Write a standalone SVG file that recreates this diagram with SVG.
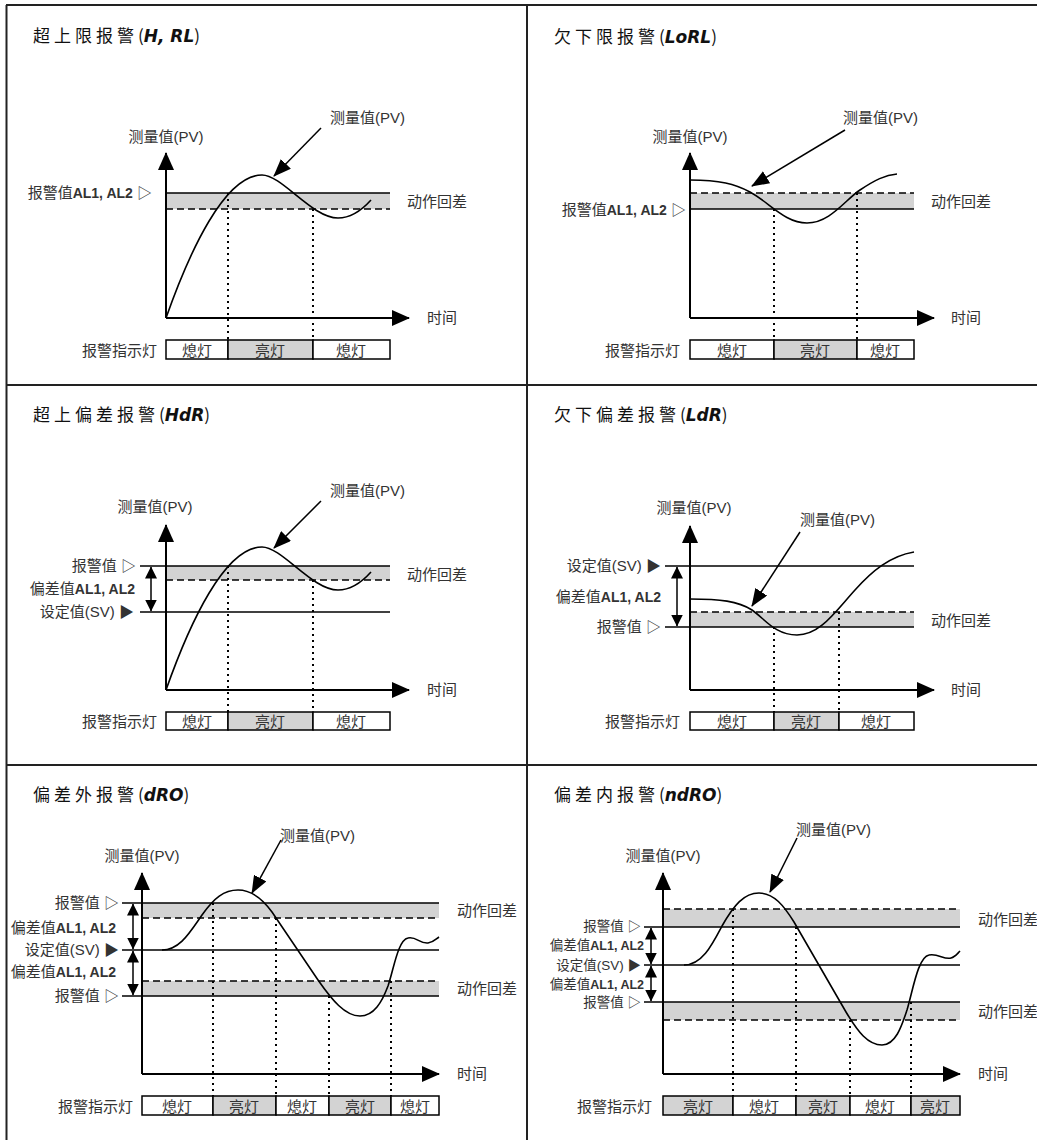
<svg xmlns="http://www.w3.org/2000/svg" width="1037" height="1140" viewBox="0 0 1037 1140">
<defs>
<style>
.grid{stroke:#222;stroke-width:2;fill:none}
.axis{stroke:#000;stroke-width:2;fill:none;marker-end:url(#ah)}
.band{fill:#d3d3d3;stroke:none}
.solid{stroke:#000;stroke-width:1.6}
.dash{stroke:#000;stroke-width:1.6;stroke-dasharray:7 4}
.dot{stroke:#000;stroke-width:2;stroke-dasharray:2 4}
.curve{fill:none;stroke:#000;stroke-width:1.6}
.ptr{stroke:#000;stroke-width:1.5;marker-end:url(#ph)}
.dbl{stroke:#000;stroke-width:1.5;marker-start:url(#dh);marker-end:url(#dh)}
.cell{stroke:#000;stroke-width:1.5}
.on{fill:#d3d3d3}
.off{fill:#fff}
text{font-family:"Liberation Sans","Noto Sans CJK SC",sans-serif;font-size:15px;fill:#333}
.t{font-family:"Noto Sans CJK SC",sans-serif;font-size:17px;fill:#111;letter-spacing:4px}
.code{font-family:"DejaVu Sans",sans-serif;font-style:italic;font-weight:bold;letter-spacing:0}
.p{letter-spacing:0}
.e{text-anchor:end}
.m{text-anchor:middle}
.b{font-weight:bold;font-size:14px}
.s{font-size:13.5px}
.s .b{font-size:12.5px}
</style>
<marker id="ah" viewBox="0 0 18 16" refX="17" refY="8" markerWidth="18" markerHeight="16" markerUnits="userSpaceOnUse" orient="auto"><path d="M0,0 L18,8 L0,16 z" fill="#000"/></marker>
<marker id="ph" viewBox="0 0 18 14" refX="17" refY="7" markerWidth="18" markerHeight="14" markerUnits="userSpaceOnUse" orient="auto"><path d="M0,0 L18,7 L0,14 z" fill="#000"/></marker>
<marker id="dh" viewBox="0 0 12 12" refX="11.5" refY="6" markerWidth="12" markerHeight="12" markerUnits="userSpaceOnUse" orient="auto-start-reverse"><path d="M0,0 L12,6 L0,12 z" fill="#000"/></marker>
</defs>
<rect width="1037" height="1140" fill="#fff"/>

<g id="grid">
<line class="grid" x1="6.5" y1="5" x2="6.5" y2="1140"/>
<line class="grid" x1="6" y1="5" x2="1037" y2="5"/>
<line class="grid" x1="527" y1="5" x2="527" y2="1140"/>
<line class="grid" x1="6" y1="385" x2="1037" y2="385"/>
<line class="grid" x1="6" y1="765" x2="1037" y2="765"/>
</g>

<!-- Panel 1 -->
<g id="panel-hial">
<text class="t" x="33" y="42">超上限报警<tspan class="p">(</tspan><tspan class="code">H, RL</tspan><tspan class="p">)</tspan></text>
<rect class="band" x="166" y="193" width="224" height="16"/>
<line class="solid" x1="166" y1="193" x2="390" y2="193"/>
<line class="dash" x1="166" y1="209" x2="390" y2="209"/>
<text class="e" x="152" y="198">报警值<tspan class="b">AL1, AL2</tspan> ▷</text>
<text x="407" y="207">动作回差</text>
<text x="427" y="323">时间</text>
<text class="m" x="166" y="142">测量值(PV)</text>
<text x="330" y="123">测量值(PV)</text>
<g id="bar-hial">
<rect class="cell off" x="166" y="340" width="62" height="19"/>
<rect class="cell on" x="228" y="340" width="85" height="19"/>
<rect class="cell off" x="313" y="340" width="77" height="19"/>
<text class="m" x="197" y="356">熄灯</text>
<text class="m" x="270" y="356">亮灯</text>
<text class="m" x="351" y="356">熄灯</text>
</g>
<text class="e" x="157" y="356">报警指示灯</text>
</g>

<!-- Panel 2 -->
<g id="panel-loal">
<text class="t" x="554" y="43">欠下限报警<tspan class="p">(</tspan><tspan class="code">LoRL</tspan><tspan class="p">)</tspan></text>
<rect class="band" x="690" y="193" width="224" height="16"/>
<line class="dash" x1="690" y1="193" x2="914" y2="193"/>
<line class="solid" x1="690" y1="209" x2="914" y2="209"/>
<text class="e" x="686" y="215">报警值<tspan class="b">AL1, AL2</tspan> ▷</text>
<text x="931" y="207">动作回差</text>
<text x="951" y="323">时间</text>
<text class="m" x="690" y="142">测量值(PV)</text>
<text x="843" y="123">测量值(PV)</text>
<g id="bar-loal">
<rect class="cell off" x="690" y="340" width="84" height="19"/>
<rect class="cell on" x="774" y="340" width="83" height="19"/>
<rect class="cell off" x="857" y="340" width="57" height="19"/>
<text class="m" x="732" y="356">熄灯</text>
<text class="m" x="815" y="356">亮灯</text>
<text class="m" x="885" y="356">熄灯</text>
</g>
<text class="e" x="680" y="356">报警指示灯</text>
</g>

<!-- Panel 3 -->
<g id="panel-hda">
<text class="t" x="33" y="421">超上偏差报警<tspan class="p">(</tspan><tspan class="code">HdR</tspan><tspan class="p">)</tspan></text>
<rect class="band" x="166" y="566" width="224" height="14"/>
<line class="solid" x1="140" y1="566" x2="390" y2="566"/>
<line class="dash" x1="166" y1="580" x2="390" y2="580"/>
<line class="solid" x1="140" y1="612" x2="390" y2="612"/>
<text class="e" x="136" y="571">报警值 ▷</text>
<text class="e" x="135" y="594">偏差值<tspan class="b">AL1, AL2</tspan></text>
<text class="e" x="134" y="617">设定值(SV) ▶</text>
<text x="407" y="580">动作回差</text>
<text x="427" y="695">时间</text>
<text class="m" x="155" y="512">测量值(PV)</text>
<text x="330" y="496">测量值(PV)</text>
<g id="bar-hda">
<rect class="cell off" x="166" y="712" width="62" height="18"/>
<rect class="cell on" x="228" y="712" width="85" height="18"/>
<rect class="cell off" x="313" y="712" width="77" height="18"/>
<text class="m" x="197" y="727">熄灯</text>
<text class="m" x="270" y="727">亮灯</text>
<text class="m" x="351" y="727">熄灯</text>
</g>
<text class="e" x="157" y="727">报警指示灯</text>
</g>

<!-- Panel 4 -->
<g id="panel-lda">
<text class="t" x="554" y="421">欠下偏差报警<tspan class="p">(</tspan><tspan class="code">LdR</tspan><tspan class="p">)</tspan></text>
<rect class="band" x="690" y="612" width="224" height="15"/>
<line class="solid" x1="665" y1="566" x2="914" y2="566"/>
<line class="dash" x1="690" y1="612" x2="914" y2="612"/>
<line class="solid" x1="665" y1="627" x2="914" y2="627"/>
<text class="e" x="661" y="571">设定值(SV) ▶</text>
<text class="e" x="661" y="602">偏差值<tspan class="b">AL1, AL2</tspan></text>
<text class="e" x="661" y="632">报警值 ▷</text>
<text x="931" y="626">动作回差</text>
<text x="951" y="695">时间</text>
<text class="m" x="694" y="513">测量值(PV)</text>
<text x="800" y="525">测量值(PV)</text>
<g id="bar-lda">
<rect class="cell off" x="690" y="712" width="84" height="18"/>
<rect class="cell on" x="774" y="712" width="65" height="18"/>
<rect class="cell off" x="839" y="712" width="75" height="18"/>
<text class="m" x="732" y="727">熄灯</text>
<text class="m" x="806" y="727">亮灯</text>
<text class="m" x="876" y="727">熄灯</text>
</g>
<text class="e" x="680" y="727">报警指示灯</text>
</g>

<!-- Panel 5 -->
<g id="panel-dao">
<text class="t" x="33" y="801">偏差外报警<tspan class="p">(</tspan><tspan class="code">dRO</tspan><tspan class="p">)</tspan></text>
<rect class="band" x="142" y="903" width="297" height="15"/>
<rect class="band" x="142" y="981" width="297" height="15"/>
<line class="solid" x1="122" y1="903" x2="439" y2="903"/>
<line class="dash" x1="142" y1="918" x2="439" y2="918"/>
<line class="solid" x1="122" y1="950" x2="439" y2="950"/>
<line class="dash" x1="142" y1="981" x2="439" y2="981"/>
<line class="solid" x1="122" y1="996" x2="439" y2="996"/>
<text class="e" x="119" y="908">报警值 ▷</text>
<text class="e" x="116" y="933">偏差值<tspan class="b">AL1, AL2</tspan></text>
<text class="e" x="119" y="955">设定值(SV) ▶</text>
<text class="e" x="116" y="977">偏差值<tspan class="b">AL1, AL2</tspan></text>
<text class="e" x="119" y="1001">报警值 ▷</text>
<text x="457" y="916">动作回差</text>
<text x="457" y="994">动作回差</text>
<text x="457" y="1079">时间</text>
<text class="m" x="142" y="861">测量值(PV)</text>
<text x="280" y="841">测量值(PV)</text>
<g id="bar-dao">
<rect class="cell off" x="142" y="1096" width="71" height="19"/>
<rect class="cell on" x="213" y="1096" width="63" height="19"/>
<rect class="cell off" x="276" y="1096" width="53" height="19"/>
<rect class="cell on" x="329" y="1096" width="62" height="19"/>
<rect class="cell off" x="391" y="1096" width="48" height="19"/>
<text class="m" x="177" y="1112">熄灯</text>
<text class="m" x="244" y="1112">亮灯</text>
<text class="m" x="302" y="1112">熄灯</text>
<text class="m" x="360" y="1112">亮灯</text>
<text class="m" x="415" y="1112">熄灯</text>
</g>
<text class="e" x="133" y="1112">报警指示灯</text>
</g>

<!-- Panel 6 -->
<g id="panel-ndao">
<text class="t" x="554" y="801">偏差内报警<tspan class="p">(</tspan><tspan class="code">ndRO</tspan><tspan class="p">)</tspan></text>
<rect class="band" x="663" y="909" width="297" height="18"/>
<rect class="band" x="663" y="1002" width="297" height="18"/>
<line class="dash" x1="663" y1="909" x2="960" y2="909"/>
<line class="solid" x1="644" y1="927" x2="960" y2="927"/>
<line class="solid" x1="644" y1="965" x2="960" y2="965"/>
<line class="solid" x1="644" y1="1002" x2="960" y2="1002"/>
<line class="dash" x1="663" y1="1020" x2="960" y2="1020"/>
<text class="e s" x="641" y="931">报警值 ▷</text>
<text class="e s" x="644" y="950">偏差值<tspan class="b">AL1, AL2</tspan></text>
<text class="e s" x="641" y="970">设定值(SV) ▶</text>
<text class="e s" x="644" y="989">偏差值<tspan class="b">AL1, AL2</tspan></text>
<text class="e s" x="641" y="1007">报警值 ▷</text>
<text x="978" y="925">动作回差</text>
<text x="978" y="1017">动作回差</text>
<text x="978" y="1079">时间</text>
<text class="m" x="663" y="861">测量值(PV)</text>
<text x="796" y="835">测量值(PV)</text>
<g id="bar-ndao">
<rect class="cell on" x="663" y="1096" width="70" height="19"/>
<rect class="cell off" x="733" y="1096" width="63" height="19"/>
<rect class="cell on" x="796" y="1096" width="54" height="19"/>
<rect class="cell off" x="850" y="1096" width="61" height="19"/>
<rect class="cell on" x="911" y="1096" width="49" height="19"/>
<text class="m" x="698" y="1112">亮灯</text>
<text class="m" x="764" y="1112">熄灯</text>
<text class="m" x="823" y="1112">亮灯</text>
<text class="m" x="880" y="1112">熄灯</text>
<text class="m" x="935" y="1112">亮灯</text>
</g>
<text class="e" x="652" y="1112">报警指示灯</text>
</g>

<g id="connectors">
<line class="axis" x1="166" y1="318" x2="166" y2="153"/>
<line class="axis" x1="166" y1="318" x2="409" y2="318"/>
<line class="axis" x1="690" y1="318" x2="690" y2="153"/>
<line class="axis" x1="690" y1="318" x2="934" y2="318"/>
<line class="axis" x1="166" y1="690" x2="166" y2="525"/>
<line class="axis" x1="166" y1="690" x2="409" y2="690"/>
<line class="axis" x1="690" y1="690" x2="690" y2="526"/>
<line class="axis" x1="690" y1="690" x2="934" y2="690"/>
<line class="axis" x1="142" y1="1074" x2="142" y2="873"/>
<line class="axis" x1="142" y1="1074" x2="439" y2="1074"/>
<line class="axis" x1="663" y1="1074" x2="663" y2="873"/>
<line class="axis" x1="663" y1="1074" x2="960" y2="1074"/>
<path class="curve" d="M166,318 C190,250 225,175 262,175 C282,175 312,218 338,218 C352,218 362,210 371,200"/>
<path class="curve" d="M690,180 C720,180 735,184 750,192 C770,203 785,223 807,223 C830,223 845,200 860,190 C875,180 885,175 897,174"/>
<path class="curve" d="M166,690 C190,622 225,547 262,547 C282,547 312,590 338,590 C352,590 362,582 371,572"/>
<path class="curve" d="M690,599 C720,599 738,601 752,610 C765,619 775,635 797,635 C820,635 835,612 855,590 C872,571 890,556 914,552"/>
<path class="curve" d="M162,950 C180,950 190,932 202,915 C214,898 224,890 238,890 C252,890 264,901 272,912 L318,980 C332,1000 345,1016 360,1016 C374,1016 382,1002 388,986 C394,968 398,940 408,938 C416,936 420,944 428,943 C434,942 436,939 439,937"/>
<path class="curve" d="M684,965 C702,965 712,945 722,926 C734,905 744,893 759,893 C774,893 784,906 794,922 L846,1012 C858,1032 868,1045 882,1045 C896,1045 902,1025 907,1010 C913,990 918,957 929,955 C938,953 944,960 951,958 C955,957 957,954 960,951"/>
<line class="dot" x1="228" y1="193" x2="228" y2="340"/>
<line class="dot" x1="313" y1="209" x2="313" y2="340"/>
<line class="dot" x1="774" y1="209" x2="774" y2="340"/>
<line class="dot" x1="857" y1="193" x2="857" y2="340"/>
<line class="dot" x1="228" y1="566" x2="228" y2="712"/>
<line class="dot" x1="313" y1="580" x2="313" y2="712"/>
<line class="dot" x1="774" y1="627" x2="774" y2="712"/>
<line class="dot" x1="839" y1="612" x2="839" y2="712"/>
<line class="dot" x1="213" y1="903" x2="213" y2="1096"/>
<line class="dot" x1="276" y1="918" x2="276" y2="1096"/>
<line class="dot" x1="329" y1="996" x2="329" y2="1096"/>
<line class="dot" x1="391" y1="981" x2="391" y2="1096"/>
<line class="dot" x1="733" y1="909" x2="733" y2="1096"/>
<line class="dot" x1="796" y1="927" x2="796" y2="1096"/>
<line class="dot" x1="850" y1="1020" x2="850" y2="1096"/>
<line class="dot" x1="911" y1="1002" x2="911" y2="1096"/>
<line class="ptr" x1="321" y1="128" x2="274" y2="176"/>
<line class="ptr" x1="845" y1="130" x2="752" y2="186"/>
<line class="ptr" x1="321" y1="501" x2="274" y2="548"/>
<line class="ptr" x1="800" y1="532" x2="752" y2="606"/>
<line class="ptr" x1="281" y1="840" x2="252" y2="893"/>
<line class="ptr" x1="797" y1="838" x2="770" y2="892"/>
<line class="dbl" x1="151" y1="567" x2="151" y2="611"/>
<line class="dbl" x1="677" y1="567" x2="677" y2="626"/>
<line class="dbl" x1="133" y1="904" x2="133" y2="949"/>
<line class="dbl" x1="133" y1="951" x2="133" y2="995"/>
<line class="dbl" x1="651" y1="928" x2="651" y2="964"/>
<line class="dbl" x1="651" y1="966" x2="651" y2="1001"/>
</g>
</svg>
